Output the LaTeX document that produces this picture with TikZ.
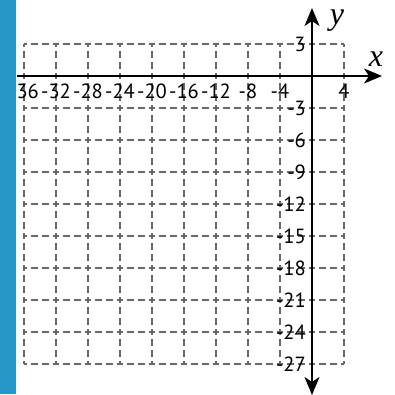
\documentclass[tikz,border=0pt]{standalone}
\usepackage{fontspec}
\setmainfont{PT Sans}
\newfontfamily\axisfont{Liberation Serif}
\usetikzlibrary{arrows.meta}
\definecolor{barblue}{RGB}{38,152,200}
\definecolor{gridgray}{RGB}{105,105,105}
\begin{document}
\begin{tikzpicture}[x=1pt,y=-1pt,
  gridline/.style={draw=gridgray,line width=1.9pt,dash pattern=on 6.67pt off 4pt,dash phase=3.33pt},
  axisline/.style={draw=black,line width=2pt},
  ticklab/.style={font=\fontsize{20.5}{20.5}\selectfont,inner sep=0pt},
  axislab/.style={font=\axisfont\itshape\fontsize{32}{32}\selectfont,inner sep=0pt}]
\useasboundingbox (0,0) rectangle (395,394);
% grid
\foreach \i in {0,...,10} {
  \draw[gridline] (24+32*\i,44) -- (24+32*\i,364);
}
\foreach \j in {0,...,10} {
  \draw[gridline] (24,44+32*\j) -- (344,44+32*\j);
}
% axes
\coordinate (xs) at (17,76);
\coordinate (xe) at (382,76);
\coordinate (ys) at (312,395);
\coordinate (ye) at (312,8);
\draw[axisline,-{Stealth[length=18pt,width=15pt,inset=5pt]}] (xs) -- (xe);
\draw[axisline,{Stealth[length=18pt,width=15pt,inset=5pt]}-{Stealth[length=18pt,width=15pt,inset=5pt]}] (ys) -- (ye);
\node[axislab] (ylab) at (337,21) {y};
\node[axislab] (xlab) at (376,59) {x};
% x tick labels
\foreach \v [count=\k from 0] in {-36,-32,-28,-24,-20,-16,-12,-8,-4} {
  \node[ticklab,anchor=north] (xl\k) at (24+32*\k,84) {\v};
}
\node[ticklab,anchor=north] (xl10) at (344,84) {4};
% y tick labels
\node[ticklab,anchor=east] (yl0) at (306,44) {3};
\foreach \v [count=\k from 2] in {-3,-6,-9,-12,-15,-18,-21,-24,-27} {
  \node[ticklab,anchor=east] (yl\k) at (306,44+32*\k) {\v};
}
% blue bar
\fill[barblue] (0,0) rectangle (16,394);
\end{tikzpicture}
\end{document}
